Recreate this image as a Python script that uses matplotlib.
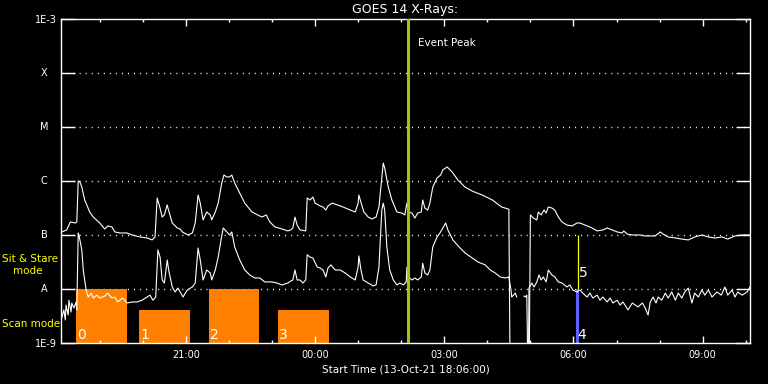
import numpy as np
import matplotlib
matplotlib.use("Agg")
import matplotlib.pyplot as plt
import matplotlib.transforms as mtransforms
from matplotlib.ticker import FixedLocator, NullLocator

# time axis: minutes after 13-Oct-21 18:06:00
# GOES long channel (upper curve)
long_t = [1, 8, 13, 20, 22, 24, 26, 29, 33, 40, 45, 54, 61, 65, 71, 75, 82, 92, 99,
          110, 120, 127, 131, 134, 138, 141, 144, 148, 149, 155, 162, 166, 169, 177,
          183, 187, 191, 194, 198, 203, 208, 210, 215, 219, 224, 227, 231, 235, 238,
          242, 249, 256, 266, 274, 280, 286, 291, 298, 308, 316, 320, 323, 326, 329,
          333, 341, 343, 347, 351, 354, 361, 365, 369, 372, 378, 385, 393, 403, 410,
          414, 415, 419, 422, 428, 433, 439, 443, 447, 449, 451, 456, 461, 468, 475,
          479, 482, 484, 489, 493, 497, 502, 504, 507, 511, 514, 518, 524, 529, 532,
          538, 545, 553, 563, 573, 587, 601, 614, 624, 626, 652, 654, 658, 663, 665,
          669, 673, 676, 679, 684, 688, 693, 698, 705, 712, 719, 723, 730, 740, 747,
          755, 761, 768, 775, 782, 784, 789, 797, 807, 814, 828, 835, 839, 846, 856,
          865, 874, 883, 893, 902, 911, 921, 929, 939, 949, 960]
long_flux = [1.14e-7, 1.24e-7, 1.74e-7, 1.67e-7, 1.74e-7, 1.0e-6, 9.8e-7, 7.7e-7, 4.45e-7,
             2.67e-7, 2.15e-7, 1.67e-7, 1.29e-7, 1.47e-7, 1.41e-7, 1.14e-7, 1.09e-7,
             1.09e-7, 1.0e-7, 9.2e-8, 8.8e-8, 8.1e-8, 9.2e-8, 4.85e-7, 3.16e-7, 2.15e-7,
             2.35e-7, 3.6e-7, 3.16e-7, 1.67e-7, 1.35e-7, 1.29e-7, 1.14e-7, 1.0e-7,
             1.09e-7, 1.67e-7, 5.5e-7, 3.9e-7, 1.9e-7, 2.67e-7, 2.35e-7, 1.9e-7, 2.67e-7,
             3.9e-7, 9.2e-7, 1.29e-6, 1.19e-6, 1.19e-6, 1.29e-6, 9.2e-7, 6.0e-7, 3.9e-7,
             2.67e-7, 2.35e-7, 2.15e-7, 2.35e-7, 1.74e-7, 1.41e-7, 1.29e-7, 1.19e-7,
             1.24e-7, 1.35e-7, 2.15e-7, 1.53e-7, 1.24e-7, 1.19e-7, 4.85e-7, 4.45e-7,
             5.05e-7, 3.9e-7, 3.45e-7, 3.3e-7, 2.9e-7, 3.45e-7, 3.9e-7, 3.6e-7, 3.3e-7,
             2.9e-7, 2.67e-7, 3.9e-7, 5.5e-7, 3.6e-7, 2.67e-7, 2.15e-7, 1.98e-7, 2.15e-7,
             3.3e-7, 1.19e-6, 2.15e-6, 1.74e-6, 7.7e-7, 4.45e-7, 2.67e-7, 2.55e-7,
             2.35e-7, 3.9e-7, 2.67e-7, 2.55e-7, 2.06e-7, 2.55e-7, 2.67e-7, 4.45e-7,
             3.16e-7, 2.9e-7, 3.9e-7, 7.7e-7, 1.14e-6, 1.29e-6, 1.6e-6, 1.82e-6, 1.47e-6,
             1.04e-6, 7.7e-7, 6.5e-7, 5.5e-7, 4.45e-7, 3.3e-7, 3.0e-7, 1e-10, 1e-10,
             2.35e-7, 2.06e-7, 1.9e-7, 2.67e-7, 2.35e-7, 2.9e-7, 2.55e-7, 3.3e-7,
             3.16e-7, 2.9e-7, 2.15e-7, 1.74e-7, 1.53e-7, 1.47e-7, 1.67e-7, 1.67e-7,
             1.53e-7, 1.35e-7, 1.19e-7, 1.24e-7, 1.35e-7, 1.24e-7, 1.14e-7, 1.09e-7,
             1.19e-7, 1.04e-7, 1.0e-7, 1.0e-7, 9.6e-8, 9.6e-8, 1.14e-7, 1.04e-7, 9.2e-8,
             8.8e-8, 8.4e-8, 8.1e-8, 9.2e-8, 1.0e-7, 9.2e-8, 8.8e-8, 9.2e-8, 8.4e-8,
             9.6e-8, 1.0e-7, 1.0e-7]

# GOES short channel (lower curve)
short_t = [0, 1, 4, 6, 7, 10, 11, 14, 15, 18, 21, 22, 24, 25, 29, 31, 35, 38, 42, 45,
           50, 54, 61, 65, 71, 75, 79, 86, 92, 99, 106, 113, 120, 124, 128, 132, 135,
           138, 141, 144, 148, 150, 155, 159, 163, 166, 170, 176, 183, 187, 191, 194,
           198, 203, 208, 210, 215, 219, 223, 226, 231, 235, 238, 242, 249, 256, 263,
           270, 277, 284, 294, 301, 308, 316, 320, 323, 326, 329, 333, 337, 341, 343,
           347, 351, 357, 361, 365, 369, 372, 376, 382, 389, 396, 403, 410, 414, 415,
           418, 421, 428, 435, 439, 443, 447, 449, 451, 454, 458, 463, 468, 472, 477,
           481, 482, 484, 489, 493, 497, 502, 504, 507, 511, 514, 518, 524, 528, 532,
           536, 539, 546, 556, 563, 573, 581, 591, 598, 605, 612, 619, 624, 627, 628,
           633, 635, 640, 645, 647, 649, 651, 652, 656, 659, 663, 666, 669, 672, 676,
           679, 684, 688, 693, 698, 705, 709, 713, 719, 723, 727, 733, 737, 741, 747,
           751, 755, 761, 765, 769, 775, 779, 783, 790, 796, 800, 804, 810, 814, 818,
           821, 825, 829, 832, 837, 842, 846, 851, 856, 860, 865, 869, 874, 879, 883,
           888, 893, 897, 902, 907, 914, 920, 925, 929, 935, 939, 943, 949, 956, 960]
short_flux = [4.65e-9, 2.9e-9, 4.1e-9, 2.67e-9, 5.05e-9, 3.3e-9, 6.2e-9, 3.75e-9, 5.5e-9,
              4.45e-9, 5.75e-9, 4.1e-9, 1.09e-7, 1.0e-7, 5.3e-8, 2.25e-8, 9.6e-9, 7.1e-9,
              8.4e-9, 6.8e-9, 7.7e-9, 6.8e-9, 7.4e-9, 8.4e-9, 6.8e-9, 7.1e-9, 5.75e-9,
              6.8e-9, 5.5e-9, 5.75e-9, 5.75e-9, 6.2e-9, 7.1e-9, 7.7e-9, 6.2e-9, 7.1e-9,
              5.3e-8, 3.9e-8, 1.47e-8, 1.29e-8, 3.45e-8, 2.25e-8, 1.09e-8, 8.8e-9,
              1.04e-8, 8.8e-9, 7.1e-9, 9.6e-9, 1.09e-8, 1.29e-8, 5.75e-8, 3.45e-8,
              1.47e-8, 2.25e-8, 1.98e-8, 1.47e-8, 2.25e-8, 3.9e-8, 8.1e-8, 1.35e-7,
              1.14e-7, 1.0e-7, 1.14e-7, 6.0e-8, 3.45e-8, 2.25e-8, 1.82e-8, 1.6e-8, 1.6e-8,
              1.35e-8, 1.35e-8, 1.29e-8, 1.19e-8, 1.29e-8, 1.4e-8, 1.47e-8, 2.25e-8,
              1.47e-8, 1.47e-8, 1.29e-8, 1.47e-8, 4.3e-8, 3.9e-8, 3.75e-8, 2.55e-8,
              2.45e-8, 2.25e-8, 1.67e-8, 2.45e-8, 2.8e-8, 2.25e-8, 2.25e-8, 1.98e-8,
              1.67e-8, 1.47e-8, 2.55e-8, 4.1e-8, 2.25e-8, 1.47e-8, 1.29e-8, 1.14e-8,
              1.19e-8, 2.55e-8, 2.9e-7, 3.9e-7, 2.9e-7, 6.0e-8, 2.25e-8, 1.47e-8, 1.19e-8,
              1.29e-8, 1.19e-8, 1.35e-8, 2.55e-8, 1.67e-8, 1.47e-8, 1.6e-8, 1.47e-8,
              1.67e-8, 3.0e-8, 1.98e-8, 1.82e-8, 2.25e-8, 6.0e-8, 9.2e-8, 1.09e-7,
              1.35e-7, 1.67e-7, 1.24e-7, 8.1e-8, 5.75e-8, 4.65e-8, 3.75e-8, 3.16e-8,
              2.8e-8, 2.25e-8, 1.98e-8, 1.67e-8, 1.6e-8, 1.67e-8, 9.6e-9, 7.1e-9, 8.4e-9,
              7.1e-9, np.nan, 7.4e-9, 7.1e-9, 7.7e-9, 1e-10, 1.04e-8, 1.29e-8, 1.09e-8,
              1.35e-8, 1.82e-8, 1.47e-8, 1.67e-8, 1.35e-8, 2.25e-8, 1.82e-8, 1.67e-8,
              1.35e-8, 1.29e-8, 1.09e-8, 1.19e-8, 9.6e-9, 8.8e-9, 9.6e-9, 8.4e-9, 7.1e-9,
              8.4e-9, 6.8e-9, 7.7e-9, 6.2e-9, 7.1e-9, 5.75e-9, 6.8e-9, 5.5e-9, 6.2e-9,
              5.05e-9, 5.75e-9, 4.1e-9, 5.5e-9, 5.05e-9, 4.65e-9, 5.5e-9, 4.45e-9, 3.3e-9,
              5.75e-9, 7.1e-9, 5.5e-9, 7.1e-9, 6.2e-9, 8.4e-9, 6.8e-9, 8.8e-9, 6.2e-9,
              8.4e-9, 6.8e-9, 8.8e-9, 1.04e-8, 5.5e-9, 8.4e-9, 7.1e-9, 9.6e-9, 7.7e-9,
              9.6e-9, 7.1e-9, 8.8e-9, 7.7e-9, 1.09e-8, 7.7e-9, 9.6e-9, 7.1e-9, 8.8e-9,
              7.7e-9, 8.8e-9, 1.09e-8]

tick_minutes = [174, 354, 534, 714, 894]
tick_labels = ['21:00', '00:00', '03:00', '06:00', '09:00']
hour_minutes = [54, 114, 234, 294, 414, 474, 594, 654, 774, 834, 954]

class_levels = [1e-8, 1e-7, 1e-6, 1e-5, 1e-4]
class_names = ['A', 'B', 'C', 'M', 'X']

event_peak = 483  # 02:09

# observation blocks
obs_ids = ['0', '1', '2', '3', '4', '5']
obs_start = [21, 109, 206, 302, 718, 720]
obs_end = [92, 180, 276, 373, 722, 721]
obs_low = [1e-9, 1e-9, 1e-9, 1e-9, 1e-9, 1e-8]
obs_high = [1e-8, 4.1e-9, 1e-8, 4.1e-9, 1e-8, 1e-7]


def make_plot():
    obs_colors = ['#ff8000', '#ff8000', '#ff8000', '#ff8000', '#6060ff', '#ffff00']

    fig = plt.figure(figsize=(7.68, 3.84), dpi=100, facecolor='black')
    ax = fig.add_axes([61 / 768, 41 / 384, 689 / 768, 324 / 384])
    ax.set_facecolor('black')
    ax.set_yscale('log')
    ax.set_ylim(1e-9, 1e-3)
    ax.set_xlim(0, 960)

    for lvl in class_levels:
        ax.axhline(lvl, color='white', lw=1, linestyle=(0, (0.75, 3.6)), zorder=0.8)

    for i in range(len(obs_ids)):
        w = obs_end[i] - obs_start[i]
        ax.bar(obs_start[i], obs_high[i] - obs_low[i], width=w, bottom=obs_low[i],
               align='edge', color=obs_colors[i], edgecolor=obs_colors[i],
               linewidth=0.9 if w < 3 else 0, zorder=1)
        off = 4 if obs_low[i] == 1e-9 else 12
        ax.annotate(obs_ids[i], xy=(obs_start[i], obs_low[i]), xytext=(1, off),
                    textcoords='offset pixels', color='white', fontsize=10,
                    ha='left', va='baseline', zorder=5)

    ax.plot(long_t, long_flux, color='white', lw=0.8, zorder=3)
    ax.plot(short_t, short_flux, color='white', lw=0.8, zorder=3)

    ax.axvline(event_peak, color='#99cc00', lw=2.2, zorder=4)
    trans = mtransforms.blended_transform_factory(ax.transData, ax.transAxes)
    ax.text(event_peak + 14, 0.926, 'Event Peak', transform=trans, color='white',
            fontsize=7.5, ha='left', va='center')

    # x axis
    ax.xaxis.set_major_locator(FixedLocator(tick_minutes))
    ax.set_xticklabels(tick_labels)
    ax.xaxis.set_minor_locator(FixedLocator(hour_minutes))
    ax.tick_params(axis='x', which='major', direction='in', length=5, width=1,
                   colors='white', labelsize=7, top=True, pad=5)
    ax.tick_params(axis='x', which='minor', direction='in', length=2.5, width=1,
                   colors='white', top=True)

    # y axis
    ax.set_yticks([1e-9] + class_levels + [1e-3])
    ax.set_yticklabels(['1E-9', '', '', '', '', '', '1E-3'])
    ax.yaxis.set_minor_locator(NullLocator())
    ax.tick_params(axis='y', which='major', direction='in', length=10, width=1,
                   colors='white', labelsize=7, right=True, pad=3)
    for lvl, name in zip(class_levels, class_names):
        ax.annotate(name, xy=(0, lvl), xycoords=('axes fraction', 'data'),
                    xytext=(-17, 0), textcoords='offset pixels', color='white',
                    fontsize=7, ha='center', va='center')

    for sp in ax.spines.values():
        sp.set_color('white')
        sp.set_linewidth(1)

    ax.set_title('GOES 14 X-Rays:', color='white', fontsize=9, pad=4)
    ax.set_xlabel('Start Time (13-Oct-21 18:06:00)', color='white', fontsize=7.5,
                  labelpad=3)

    fig.text(2 / 768, 1 - 259 / 384, 'Sit & Stare', color='#ffff00', fontsize=7.5,
             ha='left', va='center')
    fig.text(13 / 768, 1 - 271 / 384, 'mode', color='#ffff00', fontsize=7.5,
             ha='left', va='center')
    fig.text(2 / 768, 1 - 324 / 384, 'Scan mode', color='#ffff00', fontsize=7.5,
             ha='left', va='center')

    fig.savefig('out.png', dpi=100, facecolor='black')


if __name__ == "__main__":
    make_plot()
